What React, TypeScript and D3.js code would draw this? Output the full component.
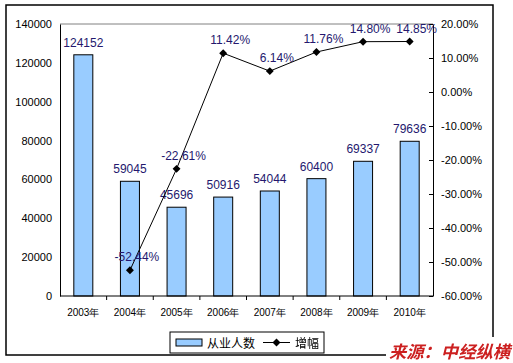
import * as React from "react";
import * as d3 from "d3";

const years = ["2003年", "2004年", "2005年", "2006年", "2007年", "2008年", "2009年", "2010年"];
const workers = [124152, 59045, 45696, 50916, 54044, 60400, 69337, 79636];
const growth = [null, -52.44, -22.61, 11.42, 6.14, 11.76, 14.8, 14.85];
const leftTicks = [0, 20000, 40000, 60000, 80000, 100000, 120000, 140000];
const rightTicks = [-60, -50, -40, -30, -20, -10, 0, 10, 20];

const FONT = "'Liberation Sans', Arial, sans-serif";
const LABEL_COLOR = "#24186e";

function drawChart(svgRef: React.RefObject<SVGSVGElement | null>) {
  const width = 513;
  const height = 363;
  const plot = { left: 60, right: 433, top: 24, bottom: 296 };

  const svg = d3.select(svgRef.current).attr("width", width).attr("height", height);
  svg.selectAll("*").remove();

  const x = d3.scaleBand<string>().domain(years).range([plot.left, plot.right]);
  const y = d3.scaleLinear().domain([0, 140000]).range([plot.bottom, plot.top]);
  const y2 = d3.scaleLinear().domain([-60, 20]).range([plot.bottom, plot.top]);
  const barW = 19;

  // outer frame
  svg.append("rect").attr("x", 6).attr("y", 5).attr("width", 487).attr("height", 350)
    .attr("fill", "#fff").attr("stroke", "#000").attr("stroke-width", 1.5);

  // plot area border (top edge gray)
  svg.append("line").attr("x1", plot.left).attr("x2", plot.right)
    .attr("y1", plot.top).attr("y2", plot.top).attr("stroke", "#808080");

  // bars
  svg.selectAll(".bar").data(workers).enter().append("rect")
    .attr("x", (d, i) => x(years[i])! + x.bandwidth() / 2 - barW / 2)
    .attr("y", (d) => y(d))
    .attr("width", barW)
    .attr("height", (d) => plot.bottom - y(d))
    .attr("fill", "#99ccff").attr("stroke", "#000").attr("stroke-width", 1);

  svg.selectAll(".barlabel").data(workers).enter().append("text")
    .text((d) => d)
    .attr("x", (d, i) => x(years[i])! + x.bandwidth() / 2)
    .attr("y", (d) => y(d) - 8)
    .attr("text-anchor", "middle")
    .attr("font-family", FONT).attr("font-size", 12).attr("fill", LABEL_COLOR);

  // left axis
  const gl = svg.append("g").attr("transform", `translate(${plot.left},0)`)
    .call(d3.axisLeft(y).tickValues(leftTicks).tickSize(0).tickPadding(8).tickFormat(d3.format("d")));
  gl.select(".domain").attr("stroke", "#000");
  gl.selectAll("text").attr("font-family", FONT).attr("font-size", 11).attr("fill", "#000");

  // right axis
  const gr = svg.append("g").attr("transform", `translate(${plot.right},0)`)
    .call(d3.axisRight(y2).tickValues(rightTicks).tickSize(-4).tickSizeOuter(0).tickPadding(8)
      .tickFormat((d) => `${(+d).toFixed(2)}%`));
  gr.select(".domain").attr("stroke", "#000");
  gr.selectAll("line").attr("stroke", "#000");
  gr.selectAll("text").attr("font-family", FONT).attr("font-size", 11).attr("fill", "#000");

  // bottom axis
  const gb = svg.append("g").attr("transform", `translate(0,${plot.bottom})`);
  gb.append("line").attr("x1", plot.left).attr("x2", plot.right).attr("stroke", "#000");
  gb.selectAll(".tk").data(d3.range(1, years.length)).enter().append("line")
    .attr("x1", (i) => x(years[i])!).attr("x2", (i) => x(years[i])!)
    .attr("y1", 0).attr("y2", 4).attr("stroke", "#000");
  gb.selectAll(".yl").data(years).enter().append("text")
    .text((d) => d)
    .attr("x", (d) => x(d)! + x.bandwidth() / 2)
    .attr("y", 20)
    .attr("text-anchor", "middle")
    .attr("font-family", FONT).attr("font-size", 10).attr("fill", "#000");

  // growth line
  const pts = growth.map((v, i) => ({ v, yr: years[i] })).filter((d) => d.v !== null) as { v: number; yr: string }[];
  const line = d3.line<{ v: number; yr: string }>()
    .x((d) => x(d.yr)! + x.bandwidth() / 2)
    .y((d) => y2(d.v));
  svg.append("path").datum(pts).attr("d", line).attr("fill", "none").attr("stroke", "#000").attr("stroke-width", 1);

  svg.selectAll(".pt").data(pts).enter().append("path")
    .attr("d", d3.symbol(d3.symbolDiamond2, 40)())
    .attr("transform", (d) => `translate(${x(d.yr)! + x.bandwidth() / 2},${y2(d.v)})`)
    .attr("fill", "#000");

  svg.selectAll(".ptlabel").data(pts).enter().append("text")
    .text((d) => `${d.v.toFixed(2)}%`)
    .attr("x", (d) => x(d.yr)! + x.bandwidth() / 2 + 7)
    .attr("y", (d) => y2(d.v) - 9)
    .attr("text-anchor", "middle")
    .attr("font-family", FONT).attr("font-size", 12).attr("fill", LABEL_COLOR);

  // legend
  const lg = svg.append("g");
  lg.append("rect").attr("x", 170).attr("y", 332).attr("width", 154).attr("height", 21)
    .attr("fill", "#fff").attr("stroke", "#000").attr("stroke-width", 1);
  lg.append("rect").attr("x", 176).attr("y", 339).attr("width", 26).attr("height", 7)
    .attr("fill", "#99ccff").attr("stroke", "#000");
  lg.append("text").text("从业人数").attr("x", 207).attr("y", 348)
    .attr("font-family", "'Noto Sans CJK SC', sans-serif").attr("font-size", 12).attr("fill", "#000");
  lg.append("line").attr("x1", 263).attr("x2", 290).attr("y1", 342.5).attr("y2", 342.5).attr("stroke", "#000");
  lg.append("path").attr("d", d3.symbol(d3.symbolDiamond2, 40)())
    .attr("transform", "translate(276.5,342.5)").attr("fill", "#000");
  lg.append("text").text("增幅").attr("x", 295).attr("y", 348)
    .attr("font-family", "'Noto Sans CJK SC', sans-serif").attr("font-size", 12).attr("fill", "#000");

  // watermark
  svg.append("rect").attr("x", 386).attr("y", 337).attr("width", 127).attr("height", 26).attr("fill", "#fff");
  svg.append("text").text("来源：中经纵横").attr("x", 389).attr("y", 358)
    .attr("font-family", "'Noto Sans CJK SC', sans-serif").attr("font-size", 17)
    .attr("font-weight", "bold").attr("font-style", "italic").attr("fill", "#cc2020")
    .attr("textLength", 121).attr("lengthAdjust", "spacingAndGlyphs");
}

const App = () => {
  const svgRef = React.useRef<SVGSVGElement | null>(null);

  React.useEffect(() => {
    drawChart(svgRef);
  }, []);

  return (
    <div style={{ position: "fixed", left: 0, top: 0 }}>
      <svg ref={svgRef} style={{ display: "block" }} />
    </div>
  );
};

export default App;
